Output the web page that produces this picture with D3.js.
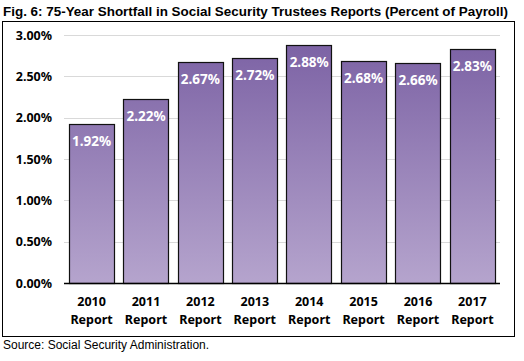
<!DOCTYPE html>
<html>
<head>
<meta charset="utf-8">
<script src="https://cdn.jsdelivr.net/npm/d3@7"></script>
<style>
  body { margin: 0; background: #fff; }
  svg { display: block; }
</style>
</head>
<body>
<div id="chart"></div>
<script>
const width = 524,
  height = 361;

// data
const years = ["2010", "2011", "2012", "2013", "2014", "2015", "2016", "2017"];
const shortfall = [1.92, 2.22, 2.67, 2.72, 2.88, 2.68, 2.66, 2.83];
const yTicks = [0, 0.5, 1, 1.5, 2, 2.5, 3];

const plot = { left: 64, right: 500, top: 35, bottom: 283 };

const svg = d3
  .select("#chart")
  .append("svg")
  .attr("width", width)
  .attr("height", height);

// gradient for bars
const grad = svg
  .append("defs")
  .append("linearGradient")
  .attr("id", "barGrad")
  .attr("gradientUnits", "userSpaceOnUse")
  .attr("x1", 0)
  .attr("x2", 0)
  .attr("y1", plot.top)
  .attr("y2", plot.bottom);
grad.append("stop").attr("offset", "0%").attr("stop-color", "#7a60a3");
grad.append("stop").attr("offset", "100%").attr("stop-color", "#b5a4cd");

// title
svg
  .append("text")
  .attr("x", 3)
  .attr("y", 16)
  .style("font-family", "Liberation Sans, Arial, sans-serif")
  .style("font-weight", "bold")
  .style("font-size", "13px")
  .attr("textLength", 505)
  .attr("lengthAdjust", "spacingAndGlyphs")
  .attr("fill", "#000")
  .text("Fig. 6: 75-Year Shortfall in Social Security Trustees Reports (Percent of Payroll)");

// chart border
svg
  .append("rect")
  .attr("x", 2.5)
  .attr("y", 21.5)
  .attr("width", 512)
  .attr("height", 315)
  .attr("fill", "#fff")
  .attr("stroke", "#000")
  .attr("stroke-width", 1);

const x = d3
  .scaleBand()
  .domain(years)
  .range([plot.left, plot.right])
  .paddingInner(0.165)
  .paddingOuter(0.09);

const y = d3.scaleLinear().domain([0, 3]).range([plot.bottom, plot.top]);

// gridlines
svg
  .append("g")
  .selectAll("line")
  .data(yTicks.filter((d) => d > 0))
  .enter()
  .append("line")
  .attr("x1", plot.left)
  .attr("x2", plot.right)
  .attr("y1", (d) => Math.round(y(d)) + 0.5)
  .attr("y2", (d) => Math.round(y(d)) + 0.5)
  .attr("stroke", "#d9d9d9");

// y axis labels
const yAxis = d3
  .axisLeft(y)
  .tickValues(yTicks)
  .tickSize(0)
  .tickPadding(0)
  .tickFormat((d) => d.toFixed(2) + "%");

svg
  .append("g")
  .attr("transform", "translate(52,0)")
  .call(yAxis)
  .call((g) => g.select(".domain").remove())
  .selectAll("text")
  .style("font-family", "Noto Sans, Open Sans, sans-serif")
  .style("font-weight", "bold")
  .style("font-size", "12.5px")
  .attr("fill", "#000");

// bars
svg
  .append("g")
  .selectAll("rect")
  .data(shortfall)
  .enter()
  .append("rect")
  .attr("x", (d, i) => Math.round(x(years[i])) + 0.5)
  .attr("y", (d) => Math.round(y(d)) + 0.5)
  .attr("width", Math.round(x.bandwidth()))
  .attr("height", (d) => Math.round(y(0)) - Math.round(y(d)))
  .attr("fill", "url(#barGrad)")
  .attr("stroke", "#111")
  .attr("stroke-width", 1.2);

// baseline
svg
  .append("line")
  .attr("x1", plot.left)
  .attr("x2", plot.right)
  .attr("y1", Math.round(y(0)) + 0.5)
  .attr("y2", Math.round(y(0)) + 0.5)
  .attr("stroke", "#000")
  .attr("stroke-width", 1.3);

// value labels
svg
  .append("g")
  .selectAll("text")
  .data(shortfall)
  .enter()
  .append("text")
  .attr("x", (d, i) => x(years[i]) + x.bandwidth() / 2)
  .attr("y", (d) => y(d) + 22)
  .attr("text-anchor", "middle")
  .style("font-family", "Noto Sans, Open Sans, sans-serif")
  .style("font-weight", "bold")
  .style("font-size", "13.5px")
  .attr("fill", "#fff")
  .text((d) => d.toFixed(2) + "%");

// x labels
const xl = svg
  .append("g")
  .selectAll("text")
  .data(years)
  .enter()
  .append("text")
  .attr("x", (d) => x(d) + x.bandwidth() / 2)
  .attr("y", 306)
  .attr("text-anchor", "middle")
  .style("font-family", "Noto Sans, Open Sans, sans-serif")
  .style("font-weight", "bold")
  .style("font-size", "12.5px")
  .attr("fill", "#000");
xl.append("tspan").attr("x", (d) => x(d) + x.bandwidth() / 2).text((d) => d);
xl.append("tspan")
  .attr("x", (d) => x(d) + x.bandwidth() / 2)
  .attr("dy", 17.5)
  .text("Report");

// source
svg
  .append("text")
  .attr("x", 3)
  .attr("y", 349)
  .style("font-family", "Liberation Sans, Arial, sans-serif")
  .style("font-size", "12px")
  .attr("fill", "#000")
  .text("Source: Social Security Administration.");
</script>
</body>
</html>
